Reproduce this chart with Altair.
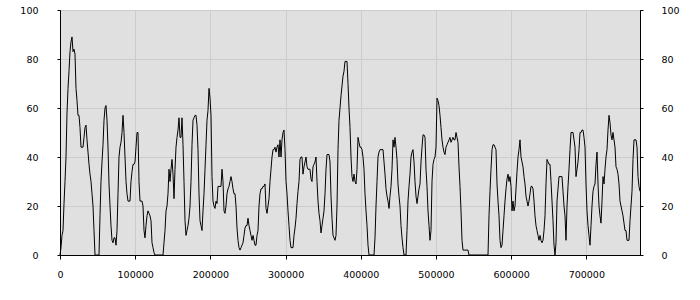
import altair as alt
import pandas as pd

# sampling interval of the x axis (units per sample)
SAMPLE_INTERVAL = 1330

# measured level, one sample per interval
level = [
    0, 3, 8, 10, 21, 30, 40, 58, 68, 75,
    83, 87, 89, 83, 84, 82, 68, 63, 57, 57,
    52, 44, 44, 44, 48, 52, 53, 47, 42, 37,
    33, 30, 25, 20, 10, 0, 0, 0, 0, 0,
    16, 30, 38, 45, 55, 60, 61, 55, 44, 29,
    20, 12, 6, 5, 7, 7, 4, 10, 25, 40,
    44, 46, 50, 57, 50, 40, 30, 25, 22, 22,
    22, 30, 34, 37, 37, 38, 44, 50, 50, 30,
    22, 22, 22, 20, 10, 7, 12, 16, 18, 17,
    16, 14, 5, 3, 1, 0, 0, 0, 0, 0,
    0, 0, 0, 0, 5, 10, 18, 20, 25, 35,
    30, 35, 39, 33, 23, 35, 44, 48, 51, 56,
    48, 48, 56, 45, 30, 14, 8, 10, 12, 15,
    20, 30, 45, 55, 56, 57, 57, 53, 43, 25,
    14, 12, 10, 18, 25, 35, 45, 55, 59, 68,
    64, 57, 32, 22, 20, 19, 22, 21, 28, 28,
    28, 28, 35, 30, 18, 17, 20, 25, 27, 28,
    30, 32, 30, 27, 25, 25, 20, 11, 6, 3,
    2, 3, 4, 5, 8, 11, 12, 12, 15, 12,
    10, 8, 6, 8, 6, 4, 4, 8, 10, 20,
    25, 27, 27, 28, 28, 29, 19, 17, 20, 23,
    30, 35, 40, 43, 43, 44, 42, 44, 45, 40,
    47, 40, 47, 50, 51, 43, 30, 25, 18, 12,
    6, 3, 3, 3, 8, 11, 15, 21, 26, 30,
    39, 40, 40, 33, 36, 38, 40, 36, 35, 35,
    35, 31, 30, 36, 37, 38, 40, 30, 22, 17,
    14, 9, 12, 15, 18, 25, 35, 41, 41, 41,
    38, 24, 15, 8, 7, 6, 8, 20, 43, 55,
    60, 65, 69, 73, 75, 79, 79, 79, 70, 60,
    52, 40, 32, 30, 33, 30, 29, 35, 48, 46,
    44, 44, 43, 40, 35, 25, 18, 12, 4, 0,
    0, 0, 0, 0, 0, 7, 20, 30, 40, 42,
    43, 43, 43, 43, 38, 33, 27, 24, 22, 19,
    24, 28, 35, 47, 44, 48, 44, 39, 29, 24,
    20, 12, 7, 3, 0, 0, 0, 10, 22, 28,
    33, 40, 42, 43, 38, 30, 24, 21, 24, 27,
    29, 38, 44, 49, 49, 48, 35, 28, 18, 12,
    6, 10, 30, 37, 39, 40, 44, 64, 63, 61,
    57, 52, 47, 44, 42, 41, 44, 45, 46, 47,
    48, 46, 47, 48, 47, 47, 50, 48, 46, 36,
    28, 18, 6, 2, 2, 2, 2, 2, 2, 0,
    0, 0, 0, 0, 0, 0, 0, 0, 0, 0,
    0, 0, 0, 0, 0, 0, 0, 0, 0, 16,
    26, 35, 43, 45, 45, 44, 43, 29, 22, 16,
    6, 3, 4, 10, 16, 22, 27, 31, 33, 30,
    32, 28, 18, 22, 18, 20, 27, 34, 40, 43,
    47, 40, 38, 36, 32, 29, 24, 22, 20, 22,
    25, 28, 28, 27, 22, 16, 12, 10, 8, 6,
    8, 6, 5, 6, 10, 16, 29, 39, 38, 37,
    37, 30, 22, 14, 4, 0, 5, 22, 27, 32,
    32, 32, 32, 26, 20, 16, 6, 20, 28, 35,
    43, 50, 50, 50, 47, 44, 32, 35, 38, 43,
    50, 50, 51, 51, 48, 44, 29, 18, 12, 8,
    4, 12, 20, 26, 28, 29, 37, 42, 29, 20,
    16, 13, 22, 32, 29, 35, 40, 43, 51, 57,
    54, 49, 47, 50, 47, 44, 36, 35, 33, 29,
    22, 20, 18, 16, 13, 10, 10, 6, 6, 6,
    14, 20, 26, 39, 47, 47, 47, 44, 32, 28,
    26,
]

x_ticks = [0, 100000, 200000, 300000, 400000, 500000, 600000, 700000]
y_ticks = [0, 20, 40, 60, 80, 100]

df = pd.DataFrame({
    "pos": [i * SAMPLE_INTERVAL for i in range(len(level))],
    "level": level,
})

FONT = "DejaVu Sans"
GRID = "#cccccc"
x_max = (len(level) - 1) * SAMPLE_INTERVAL

x_scale = alt.Scale(domain=[0, x_max], nice=False, zero=True)
y_scale = alt.Scale(domain=[0, 100], nice=False)

x_enc = alt.X(
    "pos:Q",
    scale=x_scale,
    axis=alt.Axis(
        values=x_ticks, format="d", title=None, grid=True,
        gridColor=GRID, gridOpacity=1, gridWidth=1,
        domainColor="black", tickColor="black",
        labelColor="black", tickSize=4, labelPadding=10,
        labelFont=FONT, labelFontSize=9.5, labelFlush=False,
    ),
)

left = alt.Chart(df).mark_line(color="black", strokeWidth=1).encode(
    x=x_enc,
    y=alt.Y(
        "level:Q", scale=y_scale,
        axis=alt.Axis(
            orient="left", values=y_ticks, title=None, grid=True,
            gridColor=GRID, gridOpacity=1, gridWidth=1,
            domainColor="black", tickColor="black",
            labelColor="black", tickSize=3, labelPadding=19,
            labelFont=FONT, labelFontSize=9.5, labelFlush=False,
        ),
    ),
)

right = alt.Chart(df).mark_line(opacity=0).encode(
    x=x_enc,
    y=alt.Y(
        "level:Q", scale=y_scale,
        axis=alt.Axis(
            orient="right", values=y_ticks, title=None, grid=False,
            domainColor="black", tickColor="black",
            labelColor="black", tickSize=3, labelPadding=18,
            labelFont=FONT, labelFontSize=9.5, labelFlush=False,
        ),
    ),
)

chart = (
    alt.layer(left, right)
    .resolve_axis(y="independent")
    .properties(
        width=580, height=245,
        autosize=alt.AutoSizeParams(type="none"),
        padding={"left": 60, "top": 10, "right": 60, "bottom": 45},
        background="white",
    )
    .configure_view(fill="#e0e0e0", stroke="black", strokeWidth=1)
)

chart.save("out.html", embed_options={"renderer": "svg", "actions": False})
